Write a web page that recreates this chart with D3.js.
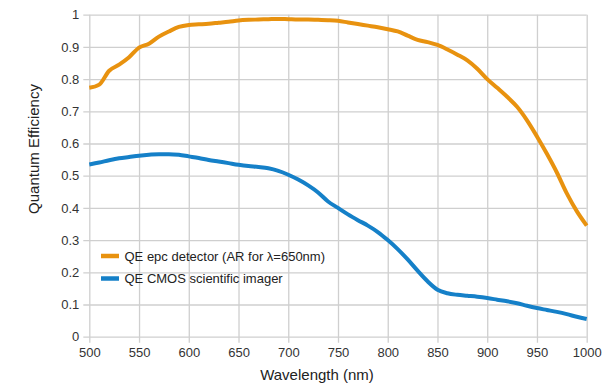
<!DOCTYPE html>
<html><head><meta charset="utf-8">
<script src="https://cdn.jsdelivr.net/npm/d3@7"></script>
<style>html,body{margin:0;padding:0;background:#fff;}svg{display:block;font-family:"Liberation Sans",Arial,sans-serif;}</style>
</head><body><svg id="c" width="606" height="385"></svg>
<script>
const wavelengths = [500,510,520,530,540,550,560,570,580,590,600,610,620,630,640,650,660,670,680,690,700,710,720,730,740,750,760,770,780,790,800,810,820,830,840,850,860,870,880,890,900,910,920,930,940,950,960,970,980,990,1000];
const qeEpc = [0.773,0.783,0.826,0.845,0.868,0.898,0.910,0.932,0.948,0.962,0.968,0.970,0.972,0.975,0.978,0.982,0.984,0.985,0.986,0.987,0.986,0.985,0.985,0.984,0.983,0.981,0.976,0.971,0.966,0.961,0.955,0.948,0.935,0.922,0.915,0.906,0.892,0.876,0.858,0.832,0.800,0.773,0.745,0.714,0.672,0.622,0.568,0.510,0.445,0.390,0.345];
const qeCmos = [0.535,0.541,0.548,0.554,0.558,0.562,0.565,0.567,0.567,0.565,0.560,0.555,0.549,0.544,0.539,0.534,0.530,0.527,0.523,0.515,0.503,0.488,0.470,0.448,0.420,0.400,0.380,0.362,0.345,0.325,0.300,0.272,0.240,0.205,0.172,0.146,0.135,0.130,0.127,0.124,0.120,0.115,0.110,0.104,0.096,0.089,0.083,0.077,0.070,0.062,0.055];
const xTicks = [500,550,600,650,700,750,800,850,900,950,1000];
const yTicks = [0,0.1,0.2,0.3,0.4,0.5,0.6,0.7,0.8,0.9,1];
const seriesNames = ["QE epc detector (AR for \u03bb=650nm)","QE CMOS scientific imager"];
const seriesColors = ["#e8920f","#1580c8"];

const svg = d3.select("#c");
const x = d3.scaleLinear().domain([500,1000]).range([89.3,586.7]);
const y = d3.scaleLinear().domain([0,1]).range([336.7,14.7]);

const grid = "#cfcfcf";
const gx = svg.append("g").attr("transform","translate(0,"+y(0)+")")
  .call(d3.axisBottom(x).tickValues(xTicks).tickFormat(d3.format("d")).tickSize(6).tickPadding(5));
gx.select(".domain").remove();
gx.selectAll("line").attr("y1",-(y(0)-y(1))).attr("stroke",grid).attr("stroke-width",1.3);
gx.selectAll("text").attr("font-size","13px").attr("fill","#333").attr("font-family","Liberation Sans, Arial, sans-serif");

const gy = svg.append("g").attr("transform","translate("+x(500)+",0)")
  .call(d3.axisLeft(y).tickValues(yTicks).tickFormat(d=>d===0||d===1?String(d):d3.format(".1f")(d)).tickSize(6).tickPadding(4));
gy.select(".domain").remove();
gy.selectAll("line").attr("x1",x(1000)-x(500)).attr("stroke",grid).attr("stroke-width",1.3);
gy.selectAll("text").attr("font-size","13px").attr("fill","#333").attr("font-family","Liberation Sans, Arial, sans-serif");

const line = d3.line().x((d,i)=>x(wavelengths[i])).y(d=>y(d)).curve(d3.curveMonotoneX);
[qeEpc,qeCmos].forEach((s,k)=>{
  svg.append("path").datum(s).attr("d",line).attr("fill","none")
    .attr("stroke",seriesColors[k]).attr("stroke-width",4).attr("stroke-linejoin","round");
});

const lg = svg.append("g");
seriesNames.forEach((n,k)=>{
  const yy = 256 + k*22.5;
  lg.append("line").attr("x1",101).attr("x2",119).attr("y1",yy).attr("y2",yy)
    .attr("stroke",seriesColors[k]).attr("stroke-width",4.5);
  lg.append("text").attr("x",124.5).attr("y",yy).attr("dy","0.35em")
    .attr("font-size","13px").attr("fill","#222").text(n);
});

svg.append("text").attr("x",317).attr("y",380).attr("text-anchor","middle")
  .attr("font-size","15px").attr("fill","#222").text("Wavelength (nm)");
svg.append("text").attr("transform","translate(38.5,149) rotate(-90)")
  .attr("text-anchor","middle").attr("font-size","15px").attr("fill","#222").text("Quantum Efficiency");
</script></body></html>
